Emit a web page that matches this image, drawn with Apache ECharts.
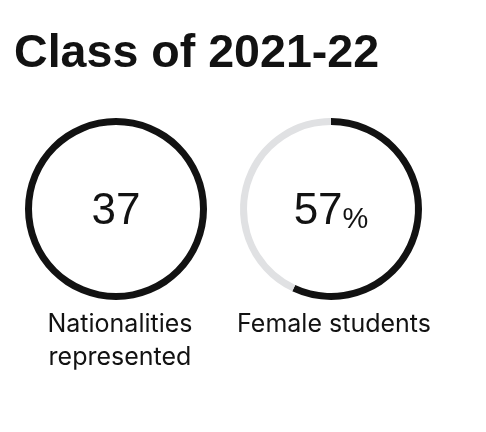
<!DOCTYPE html>
<html>
<head>
<meta charset="utf-8">
<script src="https://cdn.jsdelivr.net/npm/echarts@6/dist/echarts.min.js"></script>
<style>
html,body{margin:0;padding:0;background:#fff;}
#chart{width:486px;height:432px;}
</style>
</head>
<body>
<div id="chart"></div>
<script>
const chartTitle = 'Class of 2021-22';
const categories = ['Nationalities\nrepresented', 'Female students'];
const nationalities = [37];
const femaleShare = [57, 43];
const femaleNames = ['Female', 'Other'];

const chart = echarts.init(document.getElementById('chart'), null, {renderer: 'canvas'});
const ink = '#121212';
const grey = '#e0e1e3';
const fontMain = '"Liberation Sans", Arial, sans-serif';
const richNum = {
  n: {fontFamily: fontMain, fontSize: 44, color: ink, verticalAlign: 'bottom'},
  p: {fontFamily: fontMain, fontSize: 29, color: ink, verticalAlign: 'bottom'}
};

chart.setOption({
  backgroundColor: '#ffffff',
  animation: false,
  title: [
    {
      text: chartTitle, left: 14, top: 31, padding: 0,
      textStyle: {fontFamily: fontMain, fontWeight: 'bold', fontSize: 46.6, color: ink}
    },
    {
      text: categories[0], left: 120, top: 308, textAlign: 'center', padding: 0,
      textStyle: {fontFamily: 'Inter, sans-serif', fontWeight: 'normal', fontSize: 25, lineHeight: 33, color: ink}
    },
    {
      text: categories[1], left: 334, top: 308, textAlign: 'center', padding: 0,
      textStyle: {fontFamily: 'Inter, sans-serif', fontWeight: 'normal', fontSize: 25, lineHeight: 33, color: ink}
    }
  ],
  series: [
    {
      type: 'pie',
      center: [116, 209],
      radius: [84, 91],
      startAngle: 90,
      clockwise: true,
      silent: true,
      labelLine: {show: false},
      data: nationalities.map(v => ({
        value: v, name: 'Nationalities',
        itemStyle: {color: ink},
        label: {
          show: true, position: 'center',
          formatter: '{n|' + v + '}',
          padding: [6, 0, 0, 0],
          rich: richNum
        }
      }))
    },
    {
      type: 'pie',
      center: [331, 209],
      radius: [84, 91],
      startAngle: 90,
      clockwise: true,
      silent: true,
      labelLine: {show: false},
      data: femaleShare.map((v, i) => ({
        value: v, name: femaleNames[i],
        itemStyle: {color: i === 0 ? ink : grey},
        label: i === 0 ? {
          show: true, position: 'center',
          formatter: '{n|' + v + '}{p|%}',
          padding: [6, 0, 0, 0],
          rich: richNum
        } : {show: false}
      }))
    }
  ]
});
</script>
</body>
</html>
